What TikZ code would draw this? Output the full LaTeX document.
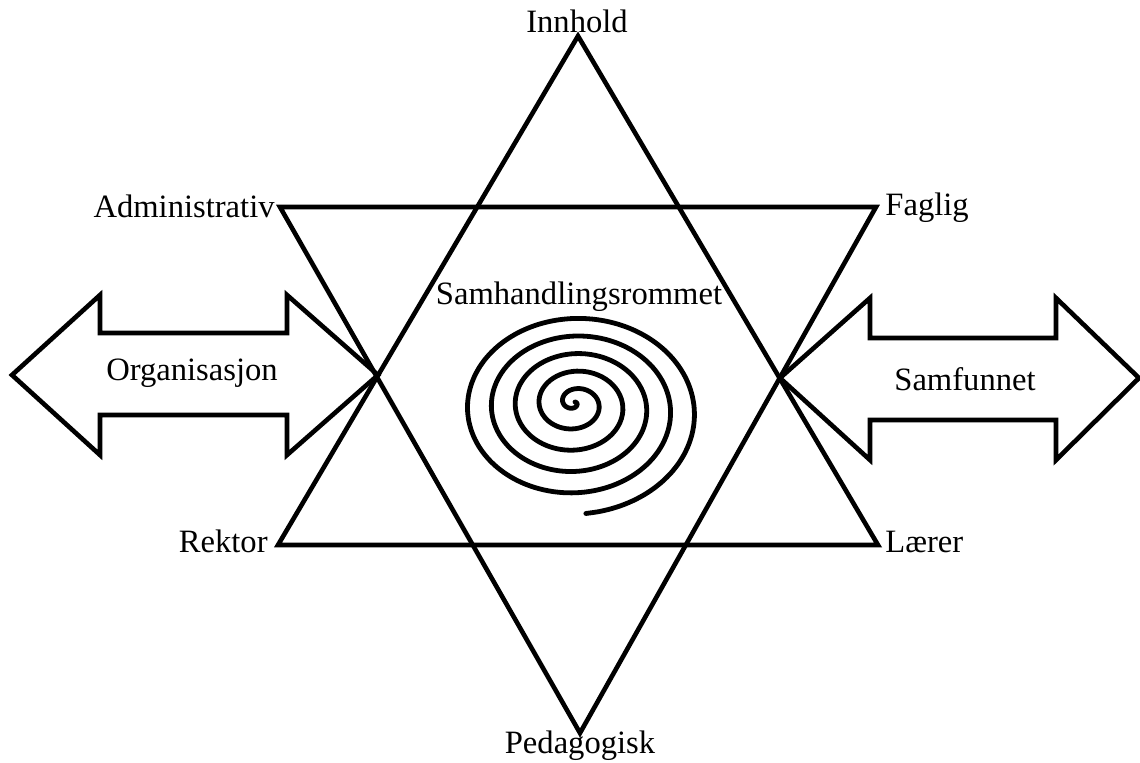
\documentclass[tikz,border=0pt]{standalone}
\usepackage{fontspec}
\setmainfont{Liberation Serif}
\usetikzlibrary{positioning}
\begin{document}
\begin{tikzpicture}[x=0.5pt,y=-0.5pt,font=\fontsize{16.3}{19}\selectfont,
  tri/.style={draw,line width=2.3pt},
  dblarr/.style={draw,line width=2.3pt},
  lab/.style={inner sep=0pt},
  curl/.style={draw,line width=2.4pt,line cap=round}]
\useasboundingbox (0,0) rectangle (1140,762);
% star corners
\coordinate (up) at (578,36);
\coordinate (ul) at (278,545);
\coordinate (ur) at (878,545);
\coordinate (dl) at (280,207);
\coordinate (dr) at (876,207);
\coordinate (dn) at (580,733);
\draw[tri] (up) -- (ur) -- (ul) -- cycle;
\draw[tri] (dl) -- (dr) -- (dn) -- cycle;
% double arrows
\draw[dblarr] (12,375) -- (100,295) -- (100,333) -- (287,333) -- (287,295) -- (378,375)
  -- (287,455) -- (287,415) -- (100,415) -- (100,455) -- cycle;
\draw[dblarr] (780,378) -- (870,298) -- (870,338) -- (1056,338) -- (1056,298) -- (1139,378)
  -- (1056,460) -- (1056,420) -- (870,420) -- (870,460) -- cycle;
% spiral
\draw[curl] plot[domain=0:32.9,samples=320,smooth,variable=\t]
  ({575+3.8*\t*cos(\t r)},{402+0.3*\t+3.1*\t*sin(\t r)});
% labels
\node[lab,anchor=base] (innhold) at (577,32) {Innhold};
\node[lab,anchor=base] (pedagogisk) at (580,753) {Pedagogisk};
\node[lab,anchor=base east] (administrativ) at (275,217) {Administrativ};
\node[lab,anchor=base west] (faglig) at (885,215) {Faglig};
\node[lab,anchor=base east] (rektor) at (268,552) {Rektor};
\node[lab,anchor=base west] (laerer) at (885,552) {Lærer};
\node[lab] (organisasjon) at (192,373) {Organisasjon};
\node[lab] (samfunnet) at (965,379) {Samfunnet};
\node[lab] (samhandling) at (579,297) {Samhandlingsrommet};
\end{tikzpicture}
\end{document}
